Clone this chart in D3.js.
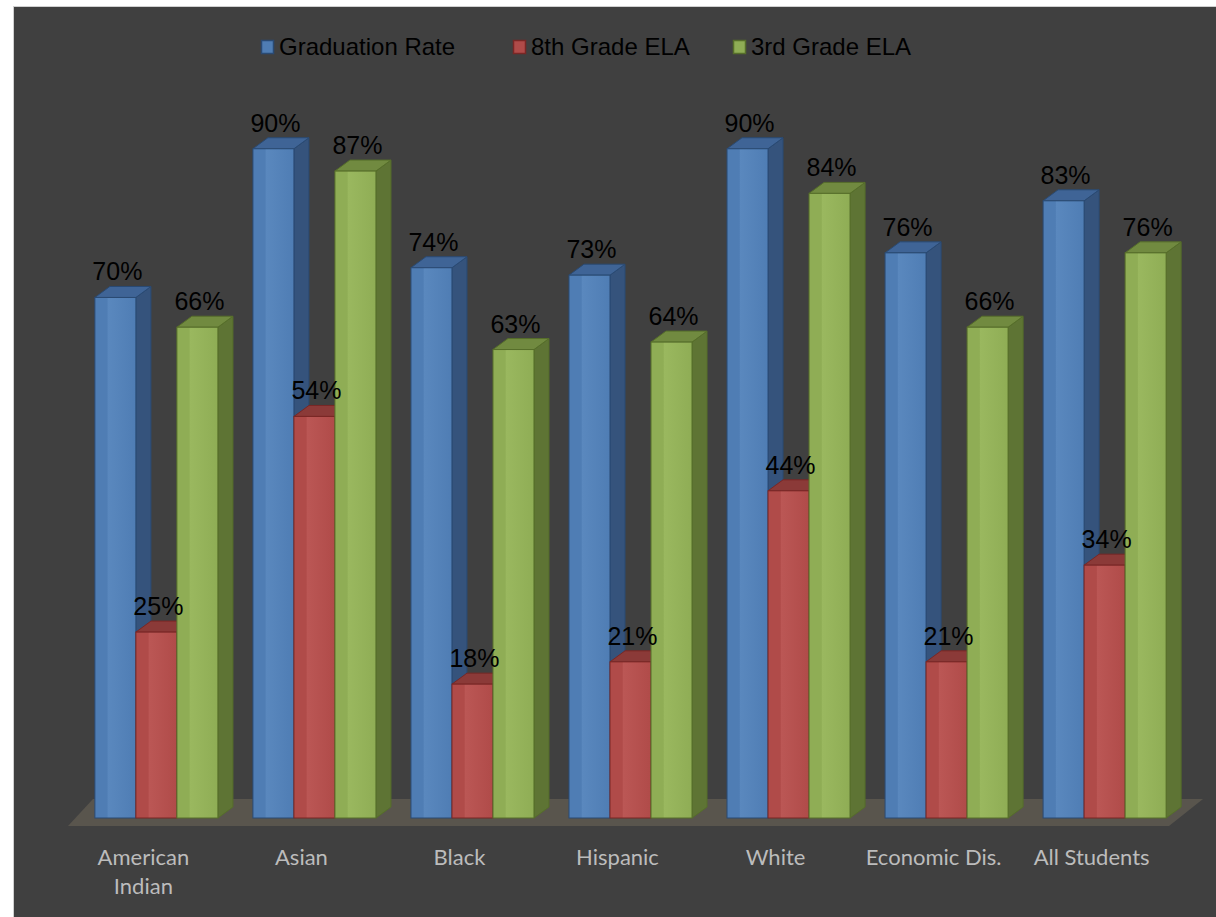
<!DOCTYPE html>
<html>
<head>
<meta charset="utf-8">
<script src="https://cdn.jsdelivr.net/npm/d3@7"></script>
<style>
  html, body { margin: 0; padding: 0; background: #ffffff; }
  svg { display: block; }
</style>
</head>
<body>
<div id="chart"></div>
<script>
// data
var categories = ['American Indian', 'Asian', 'Black', 'Hispanic', 'White', 'Economic Dis.', 'All Students'];
var categoryLines = [['American', 'Indian'], ['Asian'], ['Black'], ['Hispanic'], ['White'], ['Economic Dis.'], ['All Students']];
var seriesNames = ['Graduation Rate', '8th Grade ELA', '3rd Grade ELA'];
var graduationRate = [70, 90, 74, 73, 90, 76, 83];
var grade8ELA = [25, 54, 18, 21, 44, 21, 34];
var grade3ELA = [66, 87, 63, 64, 84, 66, 76];
var seriesValues = [graduationRate, grade8ELA, grade3ELA];

// look
var palette = [
  { front: '#4f7db4', light: '#5a88be', top: '#3f6496', side: '#35537c', stroke: '#2a4a73' },
  { front: '#b04b49', light: '#bb5755', top: '#8b3a38', side: '#7b3230', stroke: '#792725' },
  { front: '#8fad55', light: '#9ab85f', top: '#718a40', side: '#5e7434', stroke: '#566e2a' }
];

var attrs = {
  width: 1216,
  height: 917,
  frameX: 13.5,
  frameY: 6.5,
  depthX: 15,
  depthY: -11,
  baseY: 818,
  topY: 74.4,
  bandStart: 77.5,
  bandEnd: 1183.5
};

var svg = d3.select('#chart').append('svg')
  .attr('width', attrs.width)
  .attr('height', attrs.height);

// chart frame
svg.append('rect')
  .attr('x', attrs.frameX)
  .attr('y', attrs.frameY)
  .attr('width', attrs.width + 20)
  .attr('height', attrs.height + 20)
  .attr('fill', '#404040')
  .attr('stroke', '#d0d0d0')
  .attr('stroke-width', 1);

var x = d3.scaleBand()
  .domain(categories)
  .range([attrs.bandStart, attrs.bandEnd])
  .paddingInner(0.2215)
  .paddingOuter(0.11);

var xs = d3.scaleBand()
  .domain(seriesNames)
  .range([0, x.bandwidth()])
  .padding(0);

var y = d3.scaleLinear()
  .domain([0, 100])
  .range([attrs.baseY, attrs.topY]);

// gradient for the light stripe on the front faces
var defs = svg.append('defs');
palette.forEach(function (c, i) {
  var g = defs.append('linearGradient')
    .attr('id', 'grad' + i)
    .attr('x1', '0%').attr('x2', '100%')
    .attr('y1', '0%').attr('y2', '0%');
  g.append('stop').attr('offset', '0%').attr('stop-color', c.front);
  g.append('stop').attr('offset', '30%').attr('stop-color', c.front);
  g.append('stop').attr('offset', '32%').attr('stop-color', c.light);
  g.append('stop').attr('offset', '100%').attr('stop-color', c.front);
});

// floor
var r = x.range();
var floor = [
  [r[0] - 9.5, y(0) + 8],
  [r[1] - 14.5, y(0) + 8],
  [r[1] + 19.5, y(0) - 19],
  [r[0] + 15.5, y(0) - 19]
];
svg.append('polygon')
  .attr('points', floor.map(p => p.join(',')).join(' '))
  .attr('fill', '#59554d');

// bars
var dx = attrs.depthX, dy = attrs.depthY;
var bars = [];
categories.forEach(function (cat, ci) {
  seriesNames.forEach(function (s, si) {
    bars.push({ cat: cat, series: s, si: si, value: seriesValues[si][ci] });
  });
});

var groups = svg.append('g').attr('class', 'bars')
  .selectAll('g.bar')
  .data(bars)
  .join('g')
  .attr('class', 'bar');

groups.each(function (d) {
  var g = d3.select(this);
  var c = palette[d.si];
  var x0 = x(d.cat) + xs(d.series);
  var x1 = x0 + xs.bandwidth();
  var yt = y(d.value);
  var yb = y(0);

  // right side
  g.append('polygon')
    .attr('points', [[x1, yt], [x1 + dx, yt + dy], [x1 + dx, yb + dy], [x1, yb]].map(p => p.join(',')).join(' '))
    .attr('fill', c.side)
    .attr('stroke', c.stroke)
    .attr('stroke-width', 1)
    .attr('stroke-linejoin', 'round');

  // top
  g.append('polygon')
    .attr('points', [[x0, yt], [x0 + dx, yt + dy], [x1 + dx, yt + dy], [x1, yt]].map(p => p.join(',')).join(' '))
    .attr('fill', c.top)
    .attr('stroke', c.stroke)
    .attr('stroke-width', 1)
    .attr('stroke-linejoin', 'round');

  // front
  g.append('rect')
    .attr('x', x0)
    .attr('y', yt)
    .attr('width', x1 - x0)
    .attr('height', yb - yt)
    .attr('fill', 'url(#grad' + d.si + ')')
    .attr('stroke', c.stroke)
    .attr('stroke-width', 1);
});

// value labels
svg.append('g').attr('class', 'labels')
  .selectAll('text')
  .data(bars)
  .join('text')
  .attr('x', d => x(d.cat) + xs(d.series) + xs.bandwidth() / 2 + 2)
  .attr('y', d => y(d.value) - 17)
  .attr('text-anchor', 'middle')
  .attr('font-family', 'Liberation Sans, Arial, sans-serif')
  .attr('font-size', 25)
  .attr('fill', '#000')
  .text(d => d.value + '%');

// category labels
var catLabels = svg.append('g').attr('class', 'categories')
  .selectAll('text')
  .data(categories)
  .join('text')
  .attr('x', d => x(d) + x.bandwidth() / 2 - 13)
  .attr('y', 865)
  .attr('text-anchor', 'middle')
  .attr('font-family', 'Lato, Open Sans, sans-serif')
  .attr('font-size', 22)
  .attr('fill', '#bcbcbc');

catLabels.selectAll('tspan')
  .data((d, i) => categoryLines[i])
  .join('tspan')
  .attr('x', function () { return d3.select(this.parentNode).attr('x'); })
  .attr('dy', (d, i) => i === 0 ? 0 : 29)
  .text(d => d);

// legend
var legendX = [261, 513, 733];
var legend = svg.append('g').attr('class', 'legend')
  .selectAll('g')
  .data(seriesNames)
  .join('g')
  .attr('transform', (d, i) => 'translate(' + legendX[i] + ',0)');

legend.append('rect')
  .attr('x', 0.5)
  .attr('y', 40.5)
  .attr('width', 12)
  .attr('height', 13)
  .attr('fill', (d, i) => palette[i].front)
  .attr('stroke', (d, i) => palette[i].stroke)
  .attr('stroke-width', 1.5);

legend.append('text')
  .attr('x', 18)
  .attr('y', 55)
  .attr('font-family', 'Liberation Sans, Arial, sans-serif')
  .attr('font-size', 24)
  .attr('fill', '#000')
  .text(d => d);
</script>
</body>
</html>
